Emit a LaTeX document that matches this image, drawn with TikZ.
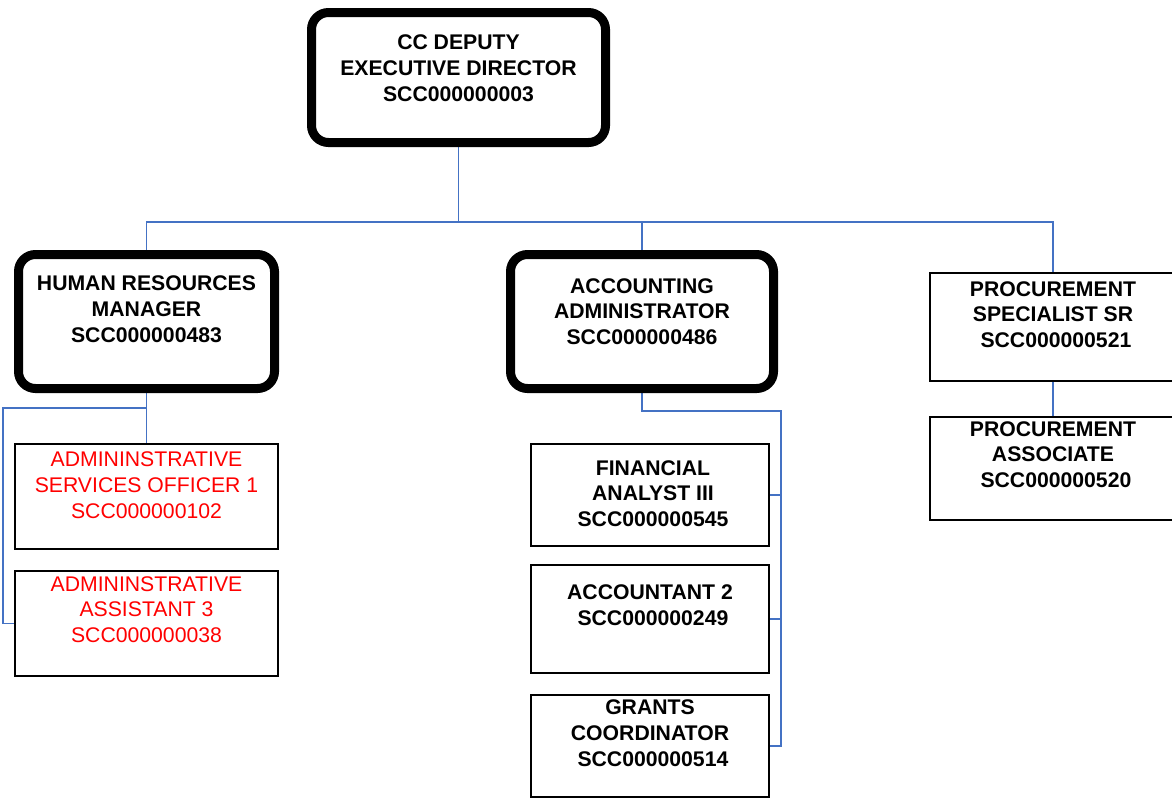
\documentclass[tikz,border=0pt]{standalone}
\usepackage{fontspec}
\setmainfont{Liberation Sans}
\usepackage{xcolor}
\usetikzlibrary{backgrounds,positioning}
\definecolor{linkblue}{HTML}{4472C4}
\definecolor{posred}{HTML}{FF0000}

\begin{document}
\begin{tikzpicture}[x=1pt,y=-1pt,
    bigbox/.style={draw=black, line width=9pt, rounded corners=17pt, fill=white},
    smallbox/.style={draw, line width=1.6pt, fill=white},
    conn/.style={draw=linkblue, line width=1.9pt},
    txt/.style={font=\bfseries\fontsize{21.2}{25.8}\selectfont, align=center, inner sep=0pt},
    redtxt/.style={txt, font=\fontsize{21.2}{25.8}\selectfont, text=posred}]
    \useasboundingbox (0,0) rectangle (1172,801);

    % Director
    \node[bigbox, minimum width=294pt, minimum height=130pt] (deputy) at (458.5,77.5) {};
    \node[txt] (deputytxt) at ([yshift=9pt]deputy.center) {CC DEPUTY\\EXECUTIVE DIRECTOR\\SCC000000003};

    % Second row
    \node[bigbox, minimum width=256pt, minimum height=134pt] (hrm) at (146.5,321.5) {};
    \node[txt] (hrmtxt) at ([yshift=12pt]hrm.center) {HUMAN RESOURCES\\MANAGER\\SCC000000483};

    \node[bigbox, minimum width=263pt, minimum height=134pt] (acc) at (642,321.5) {};
    \node[txt] (acctxt) at ([yshift=10pt]acc.center) {ACCOUNTING\\ADMINISTRATOR\\SCC000000486};

    \node[smallbox, minimum width=246.5pt, minimum height=108.5pt] (proc) at (1053,327) {};
    \node[txt] (proctxt) at ([yshift=12.5pt]proc.center) {PROCUREMENT\\SPECIALIST SR\\~SCC000000521};

    % HR staff
    \node[smallbox, minimum width=263.5pt, minimum height=105.5pt] (aso) at (146.5,496.5) {};
    \node[redtxt] (asotxt) at ([yshift=11.5pt]aso.center) {ADMININSTRATIVE\\SERVICES OFFICER 1\\SCC000000102};

    \node[smallbox, minimum width=263.5pt, minimum height=105.5pt] (asa) at (146.5,623.5) {};
    \node[redtxt] (asatxt) at ([yshift=14pt]asa.center) {ADMININSTRATIVE\\ASSISTANT 3\\SCC000000038};

    % Accounting staff
    \node[smallbox, minimum width=238.5pt, minimum height=102.5pt] (fin) at (650,495) {};
    \node[txt] (fintxt) at ([xshift=3pt,yshift=1.5pt]fin.center) {FINANCIAL\\ANALYST III\\SCC000000545};

    \node[smallbox, minimum width=238.5pt, minimum height=107.5pt] (ac2) at (650,619) {};
    \node[txt] (ac2txt) at ([yshift=14pt]ac2.center) {ACCOUNTANT 2\\~SCC000000249};

    \node[smallbox, minimum width=238.5pt, minimum height=102.5pt] (gco) at (650,746) {};
    \node[txt] (gcotxt) at ([yshift=13pt]gco.center) {GRANTS\\COORDINATOR\\~SCC000000514};

    % Procurement staff
    \node[smallbox, minimum width=246.5pt, minimum height=103.5pt] (pra) at (1053,468.5) {};
    \node[txt] (pratxt) at ([yshift=14pt]pra.center) {PROCUREMENT\\ASSOCIATE\\~SCC000000520};

    % Connectors
    \begin{scope}[on background layer]
        \coordinate (bus) at (458.5,222);
        \draw[conn] (deputy.south) -- (bus);
        \draw[conn] (hrm.north) |- (bus) -| (proc.north);
        \draw[conn] (acc.north) -- (acc.north |- bus);

        \coordinate (hrturn) at (3,408);
        \draw[conn] (hrm.south) -- (aso.north);
        \draw[conn] (hrm.south |- hrturn) -- (hrturn) |- (asa.west);

        \coordinate (accturn) at (781,411);
        \draw[conn] (acc.south) |- (accturn) |- (gco.east);
        \draw[conn] (fin.east) -- (fin.east -| accturn);
        \draw[conn] (ac2.east) -- (ac2.east -| accturn);

        \draw[conn] (proc.south) -- (pra.north);
    \end{scope}
\end{tikzpicture}
\end{document}
